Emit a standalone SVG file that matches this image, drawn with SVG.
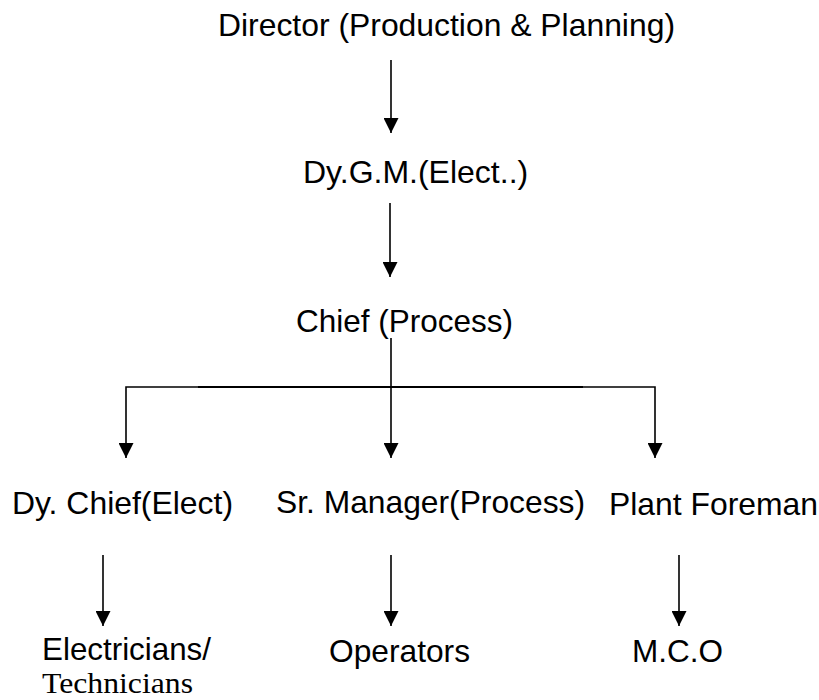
<svg xmlns="http://www.w3.org/2000/svg" width="819" height="700" viewBox="0 0 819 700">
<style>
  .t { font-family: "Liberation Sans", Arial, sans-serif; font-size: 32px; fill: #000; }
  .s { font-family: "Liberation Serif", "Times New Roman", serif; font-size: 30px; fill: #000; }
  .c { stroke: #000; stroke-width: 1.6; fill: none; }
  .b { stroke: #000; stroke-width: 2.2; fill: none; }
</style>
<defs>
  <marker id="ah" viewBox="0 0 15 15" refX="15" refY="7.5" markerWidth="15" markerHeight="15" markerUnits="userSpaceOnUse" orient="auto">
    <path d="M0,0 L15,7.5 L0,15 Z" fill="#000"/>
  </marker>
</defs>
<rect width="819" height="700" fill="#fff"/>
<g id="connectors">
  <line class="c" x1="391" y1="60" x2="391" y2="133" marker-end="url(#ah)"/>
  <line class="c" x1="390" y1="203" x2="390" y2="277" marker-end="url(#ah)"/>
  <line class="c" x1="391" y1="338" x2="391" y2="458" marker-end="url(#ah)"/>
  <line class="b" x1="198" y1="387" x2="583" y2="387"/>
  <polyline class="c" points="198,387 126,387 126,458" marker-end="url(#ah)"/>
  <polyline class="c" points="583,387 655,387 655,458" marker-end="url(#ah)"/>
  <line class="c" x1="103" y1="555" x2="103" y2="626" marker-end="url(#ah)"/>
  <line class="c" x1="391" y1="555" x2="391" y2="626" marker-end="url(#ah)"/>
  <line class="c" x1="679" y1="555" x2="679" y2="626" marker-end="url(#ah)"/>
</g>
<g id="director"><text class="t" x="218" y="36" textLength="457" lengthAdjust="spacingAndGlyphs">Director (Production &amp; Planning)</text></g>
<g id="dygm"><text class="t" x="303" y="183">Dy.G.M.(Elect..)</text></g>
<g id="chief"><text class="t" x="296" y="332" textLength="217" lengthAdjust="spacingAndGlyphs">Chief (Process)</text></g>
<g id="dychief"><text class="t" x="12" y="514" textLength="221" lengthAdjust="spacingAndGlyphs">Dy. Chief(Elect)</text></g>
<g id="srmanager"><text class="t" x="276" y="513" textLength="309" lengthAdjust="spacingAndGlyphs">Sr. Manager(Process)</text></g>
<g id="foreman"><text class="t" x="609" y="515" textLength="209" lengthAdjust="spacingAndGlyphs">Plant Foreman</text></g>
<g id="electricians">
  <text class="t" x="42" y="660" textLength="169" lengthAdjust="spacingAndGlyphs">Electricians/</text>
  <text class="s" x="42" y="693" textLength="151" lengthAdjust="spacingAndGlyphs">Technicians</text>
</g>
<g id="operators"><text class="t" x="329" y="662" textLength="141" lengthAdjust="spacingAndGlyphs">Operators</text></g>
<g id="mco"><text class="t" x="632" y="662" textLength="91" lengthAdjust="spacingAndGlyphs">M.C.O</text></g>
</svg>
